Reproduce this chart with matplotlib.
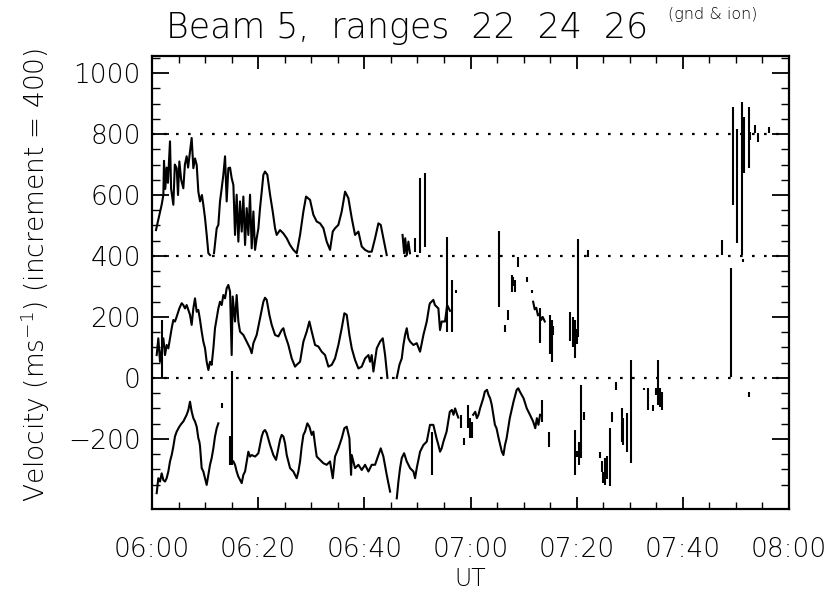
import numpy as np
import matplotlib
matplotlib.use("Agg")
import matplotlib.pyplot as plt
from matplotlib.ticker import FixedLocator

nan = np.nan

# --- data: minutes after 06:00 and velocity (already offset by the 400 increment) ---
top_t = [0.75, 1.82, 2.14, 2.26, 2.5, 2.76, 3.0, 3.39, 3.6, 4.02, 4.3, 4.65, 4.9, 5.15, 5.5, 5.90,
         6.2, 6.53, 6.8, 7.16, 7.47, 7.79, 8.1, 8.42, 8.73, 9.05, 9.4, 9.67, 9.99, 10.3, 10.62, 10.93,
         nan, 11.68, 12.19, 12.50, 12.81, 13.13, 13.44, 13.76, 14.07, 14.38, 14.70, 15.01, 15.33,
         15.64, 15.95, 16.27, 16.58, 16.90, 17.21, 17.53, 17.84, 18.15, 18.47, 18.78, 19.10, 19.41,
         19.72, 20.04, 20.35, 20.67, 20.98, 21.29, 21.73, 22.24, 22.74, 23.18, 23.49, 24.12, 24.75,
         25.38, 26.01, 26.63, 27.26, 27.89, 28.52, 29.02, 29.77, 30.40, 31.03, 31.66, 32.29, 32.91,
         33.54, 34.05, 34.48, 35.11, 35.74, 36.37, 36.99, 37.63, 38.25, 38.88, 39.51, 40.14, 40.77,
         41.39, 42.02, 42.65, 43.09, 43.59, 44.22, nan, 47.2, 47.5, 47.7, 48.0, 48.3, 48.6]
top_v = [485, 568, 600, 712, 620, 690, 640, 776, 620, 568, 700, 688, 600, 710, 650, 622,
         700, 727, 690, 743, 787, 688, 720, 699, 611, 579, 600, 568, 524, 470, 409, 403,
         nan, 409, 491, 502, 579, 622, 666, 727, 579, 688, 690, 655, 633,
         469, 601, 447, 579, 480, 595, 436, 557, 469, 601, 425, 546, 420,
         458, 491, 557, 611, 666, 677, 666, 601, 546, 491, 469, 485, 474,
         458, 436, 420, 409, 469, 546, 595, 584, 535, 513, 507, 491, 447,
         420, 480, 491, 502, 546, 611, 590, 524, 469, 480, 431, 420, 414,
         414, 458, 507, 502, 458, 403, nan, 469, 409, 458, 403, 447, 409]

mid_t = [0.88, 1.19, 1.51, 2.14, 2.45, 2.76, 3.08, 3.39, 3.71, 4.02, 4.33, 4.65, 5.15, 5.59,
         5.90, 6.22, 6.53, 6.85, 7.16, 7.47, 7.79, 8.10, 8.42, 8.73, 9.05, 9.36, 9.67, 9.99,
         10.30, 10.62, 10.93, 11.24, 11.56, 11.87, 12.19, 12.50, 12.81, 13.13, 13.44, 13.76,
         14.07, 14.38, 14.70, 15.01, 15.20, 15.64, 15.95, 16.27, 16.58, 16.90, 17.21, 17.84,
         18.47, 18.78, 19.10, 19.72, 20.35, 20.98, 21.29, 21.61, 22.11, 22.55, 23.18, 23.81,
         24.43, 24.75, 25.06, 25.69, 26.32, 26.95, 27.26, 27.89, 28.52, 29.15, 29.65, 30.09,
         30.72, 31.34, 31.97, 32.60, 33.23, 33.86, 34.48, 35.11, 35.74, 36.24, 36.68, 37.19,
         37.63, 38.25, 38.88, 39.51, 40.14, 40.77, 41.08, 41.39, 41.71, 42.34, 42.96, 43.47,
         43.91, 44.35, nan, 46.11, 46.61, 47.05, 47.36, 47.68, 47.99, 48.30, 48.62, 49.25,
         49.87, 50.50, 51.13, 51.76, 52.26, 52.37, 53.0, 53.3, 53.95, 54.26, 54.57, 55.2,
         55.6, 56.14, nan, 71.8, 72.1, 72.4, 72.7, 73.0, 73.3, 73.6, 74.0]
mid_v = [75, 130, 53, 130, 75, 108, 97, 130, 163, 190, 185, 201, 228, 245,
         239, 228, 239, 223, 207, 174, 228, 261, 217, 223, 190, 152, 119, 97,
         53, 26, 53, 43, 97, 163, 196, 228, 250, 239, 272, 261,
         294, 305, 283, 75, 267, 185, 272, 185, 152, 146, 141, 119,
         97, 81, 114, 141, 196, 250, 263, 256, 207, 174, 141, 136,
         157, 163, 141, 108, 64, 37, 43, 53, 119, 152, 185, 152,
         108, 103, 86, 75, 37, 43, 64, 108, 163, 212, 207, 141,
         97, 59, 31, 37, 64, 75, 53, 75, 21, 97, 119, 130,
         75, 0, nan, 0, 43, 64, 108, 141, 163, 130, 119, 108,
         114, 86, 141, 185, 239, 245, 256, 239, 228, 157, 185, 185,
         239, 220, nan, 250, 225, 230, 205, 210, 190, 200, 185]

bot_t = [0.88, 1.19, 1.51, 1.82, 2.14, 2.45, 2.76, 3.08, 3.39, 3.71, 4.02, 4.33, 4.65, 5.15,
         5.59, 5.90, 6.22, 6.53, 6.85, 7.16, 7.47, 7.79, 8.10, 8.42, 8.73, 8.92, 9.05, 9.36,
         9.67, 9.99, 10.30, 10.62, 10.93, 11.24, 11.56, 11.87, 12.19, 12.50, nan,
         15.33, 15.64, 15.95, 16.27, 16.58, 16.90, 17.21, 17.53, 17.84, 18.15, 18.47, 18.78,
         19.41, 19.72, 20.04, 20.35, 20.67, 20.98, 21.29, 21.61, 22.24, 22.86, 23.37, 23.81,
         24.12, 24.43, 24.75, 25.06, 25.38, 26.01, 26.63, 27.26, 27.58, 27.89, 28.20, 28.52,
         28.83, 29.27, 29.65, 30.09, 30.40, 30.72, 31.03, 31.66, 32.29, 32.91, 33.54, 34.05,
         34.48, 35.11, 35.74, 36.24, 36.68, 37.19, 37.50, 37.63, 38.25, 38.88, 39.51, 40.14,
         40.77, 41.39, 42.02, 42.65, 43.09, 43.59, 44.22, 44.85, nan, 46.11, 46.42, 46.73,
         47.05, 47.49, 47.99, 48.62, 49.25, 49.56, 49.87, 50.50, 51.13, 51.76, 52.26, 52.37,
         53.0, 53.3, 53.6, 53.95, 54.26, 54.57, 54.9, 55.5, 55.8, 56.1, 56.5, 56.8, 57.1, 57.5,
         57.7, nan, 60.5, 60.9, 61.2, 61.5, 61.8, 62.4, 62.7, 63.1, 63.4, 63.7, 64.0, 64.3, 64.6,
         64.9, 65.3, 65.6, 65.9, 66.2, 66.5, 66.8, 67.1, 67.4, 68.1, 68.7, 69.0, 69.3, 70.0,
         70.6, 71.2, 71.8, 72.2, 72.5, 72.8, 73.1]
bot_v = [-378, -329, -340, -313, -335, -340, -329, -307, -274, -253, -225, -192, -176, -160,
         -149, -143, -132, -121, -105, -78, -110, -132, -143, -160, -198, -209, -225, -296,
         -307, -329, -351, -318, -285, -263, -231, -192, -165, -149, nan,
         -274, -285, -307, -324, -334, -345, -318, -307, -274, -242, -258, -253,
         -258, -253, -247, -220, -192, -176, -171, -181, -220, -253, -269, -231,
         -203, -187, -192, -214, -253, -296, -307, -329, -307, -274, -225, -187,
         -176, -149, -160, -187, -176, -220, -258, -269, -280, -285, -274, -329,
         -258, -231, -198, -165, -160, -198, -318, -253, -296, -285, -302, -285,
         -307, -285, -285, -253, -231, -258, -318, -373, nan, -395, -340, -296,
         -263, -247, -274, -296, -307, -329, -296, -242, -220, -209, -165, -154,
         -154, -176, -198, -220, -242, -231, -209, -176, -143, -111, -105, -121, -100, -121,
         -130, nan, -121, -111, -132, -121, -100, -67, -45, -39, -56, -67, -88, -121, -154,
         -165, -198, -220, -242, -253, -220, -198, -165, -132, -78, -39, -34, -45, -67,
         -100, -121, -143, -165, -132, -154, -121]

# isolated vertical segments (time, low, high)
spike_t = [49.6, 50.4, 51.4, 82.2, 107.3, 109.5, 110.2, 111.1, 111.5, 112.4, 112.7, 113.6,
           114.2, 116.3, 111.4,
           1.82, 55.6, 56.5, 57.3, 65.4, 66.5, 67.1, 67.8, 68.1, 68.4, 69.0, 70.6, 71.5,
           73.1, 75.0, 75.3, 75.6, 78.8, 79.3, 79.7, 80.0, 80.3, 109.0,
           13.1, 15.0, 14.7, 52.7, 58.3, 58.7, 59.6, 59.9, 60.2, 73.4, 74.7, 79.7, 80.0,
           80.5, 80.8, 81.3, 84.4, 84.7, 85.0, 85.4, 85.8, 86.2, 86.6, 87.4, 88.5, 88.8,
           89.4, 90.2, 92.6, 93.5, 94.3, 95.0, 95.4, 95.7, 96.0, 112.4]
spike_lo = [414, 409, 431, 398, 403, 567, 441, 403, 671, 687, 780, 802, 775, 802, 380,
            0, 151, 152, 278, 234, 152, 190, 283, 300, 283, 365, 316, 278,
            114, 80, 53, 140, 120, 100, 64, 110, 135, 4,
            -99, -285, -285, -318, -165, -220, -165, -198, -198, -143, -225, -318, -260,
            -285, -264, -138, -264, -307, -345, -351, -330, -356, -143, -39, -209, -220,
            -242, -280, -40, -105, -110, -56, -88, -94, -105, -61]
spike_hi = [458, 655, 672, 420, 452, 890, 818, 906, 857, 890, 808, 830, 802, 824, 390,
            190, 462, 321, 288, 482, 174, 223, 338, 330, 320, 398, 332, 288,
            228, 206, 190, 170, 217, 200, 190, 160, 456, 360,
            -83, 23, -190, -176, -121, -198, -88, -132, -143, -72, -176, -171, -240,
            -209, -23, -111, -242, -274, -307, -264, -255, -165, -111, -12, -100, -132,
            -116, 59, -34, -34, -90, -34, 59, -34, -45, -45]

baselines = [0, 400, 800]
x_ticks = [0, 20, 40, 60, 80, 100, 120]
x_labels = ["06:00", "06:20", "06:40", "07:00", "07:20", "07:40", "08:00"]
y_ticks = [-200, 0, 200, 400, 600, 800, 1000]

plt.rcParams['font.family'] = ['DejaVu Sans']
plt.rcParams['font.weight'] = 'light'
plt.rcParams['axes.labelweight'] = 'light'

W, H = 831, 592
fig = plt.figure(figsize=(W / 100, H / 100), dpi=100)
ax = fig.add_axes([152 / W, 1 - 509 / H, (789 - 152) / W, (509 - 56) / H])

lw = 1.5
ax.plot(top_t, top_v, color="black", lw=lw)
ax.plot(mid_t, mid_v, color="black", lw=lw)
ax.plot(bot_t, bot_v, color="black", lw=lw)
ax.vlines(spike_t, spike_lo, spike_hi, color="black", lw=lw)

for b in baselines:
    ax.axhline(b, color="black", lw=1.6, linestyle=(0, (1.2, 4.2)))

ax.set_xlim(0, 120)
ax.set_ylim(-430, 1056)

ax.xaxis.set_major_locator(FixedLocator(x_ticks))
ax.xaxis.set_minor_locator(FixedLocator(np.arange(0, 121, 5)))
ax.set_xticklabels(x_labels)
ax.yaxis.set_major_locator(FixedLocator(y_ticks))
ax.yaxis.set_minor_locator(FixedLocator(np.arange(-350, 1051, 50)))

ax.tick_params(which="both", direction="in", top=True, right=True, colors="black")
ax.tick_params(which="major", axis="x", length=9, width=1.3, labelsize=19, pad=20)
ax.tick_params(which="minor", axis="x", length=5, width=1.0)
ax.tick_params(which="major", axis="y", length=12, width=1.3, labelsize=19, pad=8)
ax.tick_params(which="minor", axis="y", length=6, width=1.0)
for s in ax.spines.values():
    s.set_linewidth(1.6)

ax.set_xlabel("UT", fontsize=17, labelpad=4, fontweight="light")
fig.text(35 / W, 1 - 275 / H, "Velocity (ms$^{-1}$) (increment = 400)", rotation=90,
         ha="center", va="center", fontsize=19)

fig.text(166 / W, 1 - 28 / H, "Beam 5,  ranges  22  24  26", ha="left", va="center", fontsize=25)
fig.text(668 / W, 1 - 15 / H, "(gnd & ion)", ha="left", va="center", fontsize=11.5)

fig.savefig("out.png", dpi=100)
